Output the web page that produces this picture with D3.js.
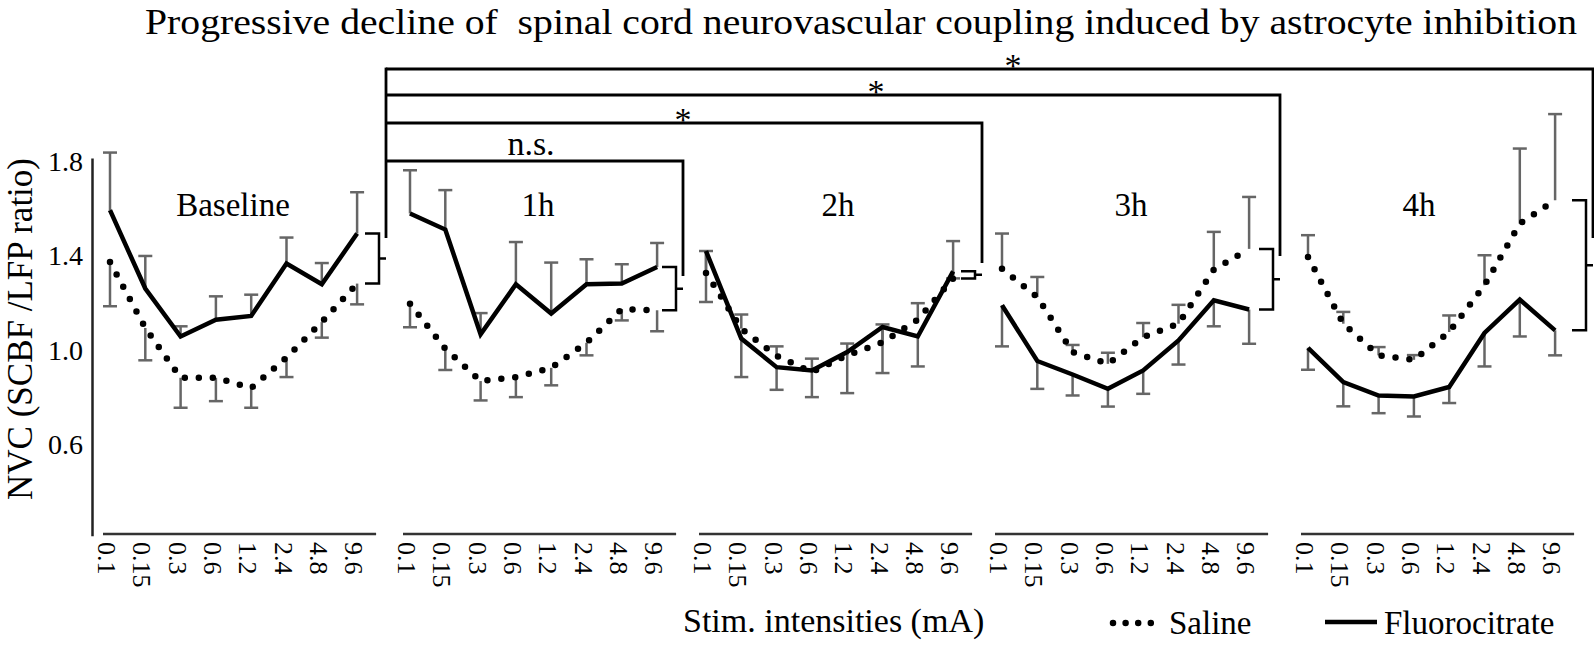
<!DOCTYPE html>
<html><head><meta charset="utf-8">
<script src="https://cdn.jsdelivr.net/npm/d3@7"></script>
<style>
html,body{margin:0;padding:0;background:#fff;}
svg text{font-family:"Liberation Serif","Times New Roman",serif;fill:#000;white-space:pre;}
</style></head>
<body><svg id="c" width="1594" height="645"></svg>
<script>
// ---------- data ----------
const titleText = "Progressive decline of  spinal cord neurovascular coupling induced by astrocyte inhibition";
const stimLabels = ["0.1","0.15","0.3","0.6","1.2","2.4","4.8","9.6"];
const panelNames = ["Baseline","1h","2h","3h","4h"];
const yTickValues = [0.6, 1.0, 1.4, 1.8];

const salineMean = [
  [1.374, 1.095, 0.884, 0.884, 0.840, 0.970, 1.120, 1.283],
  [1.198, 1.007, 0.870, 0.887, 0.926, 1.032, 1.175, 1.170],
  [1.328, 1.092, 0.977, 0.908, 0.979, 1.034, 1.130, 1.305],
  [1.346, 1.226, 0.993, 0.943, 1.056, 1.113, 1.342, 1.430],
  [1.396, 1.113, 0.979, 0.960, 1.078, 1.276, 1.537, 1.636]
];
const salineErr = [
  [0.187, 0.137, 0.127, 0.099, 0.083, 0.083, 0.066, 0.088],
  [0.100, 0.090, 0.082, 0.085, 0.074, 0.053, 0.048, 0.089],
  [0.093, 0.060, 0.040, 0.057, 0.050, 0.076, 0.070, 0.158],
  [0.149, 0.085, 0.030, 0.047, 0.060, 0.080, 0.160, 0.220],
  [0.092, 0.050, 0.035, 0.020, 0.070, 0.127, 0.318, 0.365]
];
const fluoroMean = [
  [1.594, 1.262, 1.059, 1.130, 1.146, 1.368, 1.280, 1.495],
  [1.580, 1.512, 1.068, 1.280, 1.156, 1.280, 1.283, 1.353],
  [1.421, 1.050, 0.929, 0.915, 0.993, 1.099, 1.059, 1.335],
  [1.191, 0.955, 0.898, 0.837, 0.915, 1.042, 1.212, 1.173],
  [1.011, 0.866, 0.809, 0.805, 0.845, 1.074, 1.215, 1.085]
];
const fluoroErr = [
  [0.244, 0.138, 0.043, 0.099, 0.090, 0.110, 0.090, 0.175],
  [0.183, 0.167, 0.090, 0.179, 0.216, 0.106, 0.082, 0.102],
  [0.216, 0.163, 0.096, 0.113, 0.174, 0.195, 0.127, 0.030],
  [0.174, 0.118, 0.089, 0.075, 0.099, 0.102, 0.110, 0.145],
  [0.093, 0.103, 0.075, 0.085, 0.068, 0.142, 0.156, 0.106]
];
// direction of the fluorocitrate error bar in each panel (+1 up, -1 down); saline is opposite
const fluoroErrDir = [1, 1, -1, -1, -1];
// significance comparisons against Baseline
const compTargets = [1, 2, 3, 4];
const compLabels = ["n.s.", "*", "*", "*"];
const legendLabels = ["Saline", "Fluorocitrate"];
const xTitle = "Stim. intensities (mA)";
const yTitle = "NVC (SCBF /LFP ratio)";

// ---------- layout ----------
const panelX0 = [110, 410, 706, 1002, 1308];
const step = 35.3;
const panelLabelX = [233, 538, 838, 1131, 1419];
const tickX = [386, 683, 982, 1280, 1593];
const vEnd = [238, 276, 263, 256, 238];
const compY = [161, 123, 95, 69];
const compLabelX = [531, 683, 876, 1013];
const axisY = 534;

const svg = d3.select("#c");
const y = d3.scaleLinear().domain([0.215, 1.815]).range([535.7, 158]);

// title
svg.append("text").attr("x", 145).attr("y", 34)
  .attr("textLength", 1432).attr("lengthAdjust","spacingAndGlyphs")
  .style("font-size","35px").text(titleText);

// y axis
const ya = svg.append("g").attr("transform","translate(92,0)")
  .call(d3.axisLeft(y).tickValues(yTickValues).tickSize(0).tickPadding(9).tickFormat(d3.format(".1f")));
ya.attr("font-family", null);
ya.select(".domain").attr("stroke","#222").attr("stroke-width",2.5);
ya.selectAll("text").style("font-size","28px").attr("fill","#000");

svg.append("text").attr("transform","translate(32,329) rotate(-90)").attr("text-anchor","middle")
  .style("font-size","35px").text(yTitle);

const lineGen = d3.line();

panelNames.forEach((name, p) => {
  const x = d3.scalePoint().domain(stimLabels).range([panelX0[p], panelX0[p] + 7*step]);
  const g = svg.append("g");
  // x axis
  const xa = g.append("g").attr("transform",`translate(0,${axisY})`)
    .call(d3.axisBottom(x).tickSize(0));
  xa.attr("font-family", null);
  xa.select(".domain").remove();
  xa.append("line").attr("x1", x.range()[0]-7).attr("x2", x.range()[1]+19)
    .attr("stroke","#333").attr("stroke-width",2.5);
  xa.selectAll(".tick text").attr("y",0).attr("dy",null)
    .attr("transform","translate(-4,8) rotate(90)")
    .attr("text-anchor","start").attr("dominant-baseline","central")
    .attr("fill","#000").style("font-size","26px");

  // error bars
  const dirF = fluoroErrDir[p], dirS = -dirF;
  const bars = [];
  stimLabels.forEach((s,i) => {
    bars.push({x:x(s), v:fluoroMean[p][i], e:fluoroMean[p][i] + dirF*fluoroErr[p][i]});
    bars.push({x:x(s), v:salineMean[p][i], e:salineMean[p][i] + dirS*salineErr[p][i]});
  });
  const eb = g.append("g").attr("stroke","#666").attr("stroke-width",2.5);
  bars.forEach(b => {
    eb.append("line").attr("x1",b.x).attr("x2",b.x).attr("y1",y(b.v)).attr("y2",y(b.e));
    eb.append("line").attr("x1",b.x-7).attr("x2",b.x+7).attr("y1",y(b.e)).attr("y2",y(b.e));
  });

  // fluorocitrate line
  g.append("path").attr("d", lineGen(stimLabels.map((s,i)=>[x(s), y(fluoroMean[p][i])])))
    .attr("fill","none").attr("stroke","#000").attr("stroke-width",4.5).attr("stroke-linejoin","miter");
  // saline dotted line
  g.append("path").attr("d", lineGen(stimLabels.map((s,i)=>[x(s), y(salineMean[p][i])])))
    .attr("fill","none").attr("stroke","#000").attr("stroke-width",6.5)
    .attr("stroke-linecap","round").attr("stroke-dasharray","0 14");

  // panel label
  g.append("text").attr("x", panelLabelX[p]).attr("y", 216).attr("text-anchor","middle")
    .style("font-size","33px").text(name);

  // bracket between last values
  const tx = tickX[p];
  const yF = y(fluoroMean[p][7]), yS = y(salineMean[p][7]);
  const mid = (yF + yS)/2;
  g.append("path").attr("d", `M${tx-21},${yF}H${tx-7}V${yS}H${tx-21}M${tx-7},${mid}H${tx}`)
    .attr("fill","none").attr("stroke","#000").attr("stroke-width",2.5);
});

// comparison lines
const cg = svg.append("g").attr("fill","none").attr("stroke","#000").attr("stroke-width",2.8);
cg.append("line").attr("x1",tickX[0]).attr("x2",tickX[0]).attr("y1",d3.min(compY)-1.4).attr("y2",vEnd[0]);
compTargets.forEach((t,k) => {
  cg.append("path").attr("d", `M${tickX[0]},${compY[k]}H${tickX[t]}V${vEnd[t]}`);
  const isStar = compLabels[k] === "*";
  svg.append("text").attr("x", compLabelX[k]).attr("y", isStar ? compY[k]+8 : compY[k]-6)
    .attr("text-anchor","middle").style("font-size", isStar ? "34px" : "34px").text(compLabels[k]);
});

// x title and legend
svg.append("text").attr("x",683).attr("y",632).style("font-size","34px").text(xTitle);
svg.append("line").attr("x1",1113).attr("x2",1151).attr("y1",623).attr("y2",623)
  .attr("stroke","#000").attr("stroke-width",6.5).attr("stroke-linecap","round").attr("stroke-dasharray","0 12.6");
svg.append("text").attr("x",1169).attr("y",634).style("font-size","33px").text(legendLabels[0]);
svg.append("line").attr("x1",1325).attr("x2",1377).attr("y1",622).attr("y2",622)
  .attr("stroke","#000").attr("stroke-width",4.5);
svg.append("text").attr("x",1384).attr("y",634).style("font-size","33px").text(legendLabels[1]);
</script>
</body></html>
